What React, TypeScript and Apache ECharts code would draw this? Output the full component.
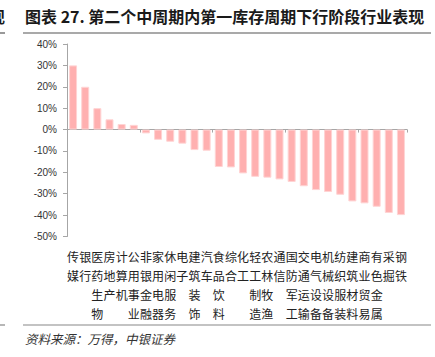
import React, { useEffect, useRef } from "react";
import * as echarts from "echarts";

const categories = [
  "传媒", "银行", "医药生物", "房地产", "计算机", "公用事业", "非银金融",
  "家用电器", "休闲服务", "电子", "建筑装饰", "汽车", "食品饮料", "综合",
  "化工", "轻工制造", "农林牧渔", "通信", "国防军工", "交通运输", "电气设备",
  "机械设备", "纺织服装", "建筑材料", "商业贸易", "有色金属", "采掘", "钢铁",
];

const values = [
  30, 20, 10, 4.8, 2.6, 2.2, -1.8, -4.8, -5.7, -6.6, -9.6, -9.9, -17.5, -17.7,
  -20.5, -22.1, -22.5, -23.3, -24.5, -26.5, -28.3, -29.2, -30.5, -33.6, -34.5,
  -36.1, -39.0, -40.0,
];

const yMin = -50;
const yMax = 40;
const yInterval = 10;

const titleText = "图表 27. 第二个中周期内第一库存周期下行阶段行业表现";
const sourceText = "资料来源：万得，中银证券";

export default function App() {
  const ref = useRef<HTMLDivElement>(null);

  useEffect(() => {
    document.body.style.margin = "0";
    if (!ref.current) return;
    const chart = echarts.init(ref.current, null, { renderer: "svg" });
    const cjk = '"Noto Sans CJK SC", "Noto Sans", sans-serif';
    chart.setOption({
      animation: false,
      backgroundColor: "#ffffff",
      grid: { left: 67, right: 28, top: 44, bottom: 120.5, containLabel: false },
      xAxis: [
        {
          type: "category",
          data: categories,
          axisLine: { onZero: true, lineStyle: { color: "#a6a6a6", width: 1 } },
          axisTick: { show: true, length: 3, lineStyle: { color: "#a6a6a6" } },
          axisLabel: { show: false },
          splitLine: { show: false },
        },
        {
          type: "category",
          data: categories,
          position: "bottom",
          axisLine: { show: false, onZero: false },
          axisTick: { show: false },
          axisLabel: {
            show: true,
            interval: 0,
            margin: 10,
            fontFamily: cjk,
            fontSize: 12,
            lineHeight: 19,
            color: "#222222",
            formatter: (v: string) => v.split("").join("\n"),
          },
        },
      ],
      yAxis: {
        type: "value",
        min: yMin,
        max: yMax,
        interval: yInterval,
        axisLine: { show: true, lineStyle: { color: "#a6a6a6" } },
        axisTick: { show: true, length: 4, lineStyle: { color: "#a6a6a6" } },
        splitLine: { show: false },
        axisLabel: {
          margin: 10,
          fontFamily: '"Liberation Sans", Arial, sans-serif',
          fontSize: 10,
          color: "#333333",
          formatter: "{value}%",
        },
      },
      series: [
        {
          type: "bar",
          data: values,
          xAxisIndex: 0,
          barWidth: 8,
          itemStyle: { color: "#ffb0b0", borderColor: "#ffd4d4", borderWidth: 1 },
        },
      ],
      graphic: [
        {
          type: "text",
          left: 25,
          top: 8,
          style: {
            text: titleText,
            font: 'bold 16px "Noto Sans CJK SC", sans-serif',
            fill: "#1a1a1a",
          },
        },
        {
          type: "text",
          x: -11,
          y: 8,
          style: {
            text: "现",
            font: 'bold 16px "Noto Sans CJK SC", sans-serif',
            fill: "#1a1a1a",
          },
        },
        {
          type: "line",
          shape: { x1: 23, y1: 33, x2: 431, y2: 33 },
          style: { stroke: "#555555", lineWidth: 1.2 },
        },
        {
          type: "line",
          shape: { x1: 0, y1: 33, x2: 5, y2: 33 },
          style: { stroke: "#555555", lineWidth: 1.2 },
        },
        {
          type: "line",
          shape: { x1: 23, y1: 325, x2: 431, y2: 325 },
          style: { stroke: "#888888", lineWidth: 1.2 },
        },
        {
          type: "line",
          shape: { x1: 0, y1: 325, x2: 5, y2: 325 },
          style: { stroke: "#888888", lineWidth: 1.2 },
        },
        {
          type: "text",
          left: 25,
          top: 332,
          style: {
            text: sourceText,
            font: 'italic 12.5px "Noto Sans CJK SC", sans-serif',
            fill: "#333333",
          },
        },
      ],
    });
    return () => chart.dispose();
  }, []);

  return <div ref={ref} style={{ width: 435, height: 357 }} />;
}
